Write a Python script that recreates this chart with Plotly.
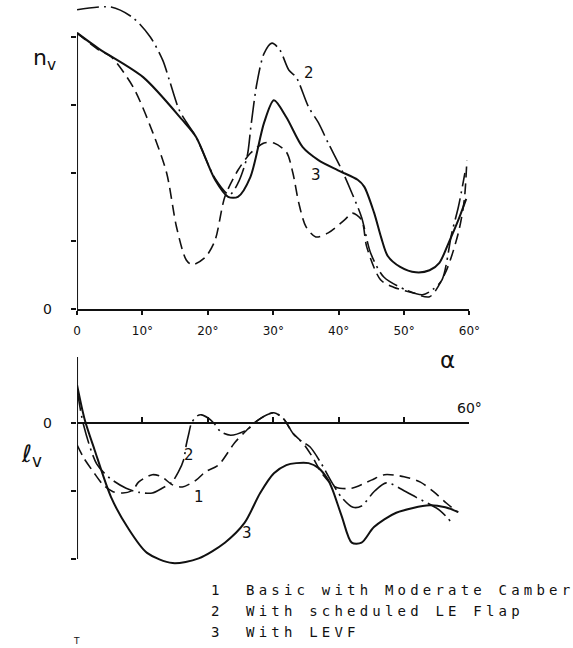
import plotly.graph_objects as go

# ---------------- data (alpha in degrees) ----------------
# top plot: n_v
nv1_alpha = [0, 3.3, 10.1, 16.1, 18.2, 21.1, 23.1, 24.6, 26.5, 28.6, 30.1, 32.0, 34.5, 36.9, 39.9, 42.9,
             43.9, 45.4, 46.5, 47.5, 49.4, 51.8, 53.9, 55.4, 56.8, 58.3, 59.5]
nv1 = [4.06, 3.83, 3.41, 2.78, 2.53, 1.90, 1.65, 1.65, 1.94, 2.74, 3.07, 2.82, 2.38, 2.19, 2.04, 1.90,
       1.80, 1.42, 1.05, 0.78, 0.62, 0.54, 0.57, 0.68, 0.97, 1.31, 1.62]

nv2_alpha = [0, 5.2, 8.6, 11.2, 13.1, 14.1, 15.6, 16.7, 18.2, 21.1, 23.3, 24.6, 26.0, 26.6, 27.5, 28.6,
             29.8, 31.0, 32.4, 33.5, 35.4, 36.9, 38.4, 40.5, 42.0, 43.5, 44.9, 46.9, 50.3, 52.8, 54.3,
             55.8, 57.3, 58.3, 59.3]
nv2 = [4.40, 4.44, 4.28, 4.00, 3.66, 3.37, 2.93, 2.75, 2.53, 1.92, 1.68, 1.85, 2.24, 2.70, 3.32, 3.76,
       3.91, 3.81, 3.51, 3.41, 2.97, 2.74, 2.44, 2.04, 1.71, 1.35, 0.82, 0.47, 0.28, 0.21, 0.28,
       0.43, 1.12, 1.50, 2.00]

nv3_alpha = [0, 3.3, 5.2, 8.6, 11.6, 13.7, 15.2, 16.7, 17.6, 19.6, 21.1, 22.6, 24.6, 26.5, 28.6, 30.1,
             32.0, 33.0, 33.9, 35.0, 36.5, 38.4, 40.9, 42.1, 43.5, 44.3, 46.4, 48.4, 51.3, 53.9, 56.3,
             58.3, 59.2, 59.6]
nv3 = [4.06, 3.81, 3.71, 3.26, 2.59, 2.00, 1.21, 0.72, 0.65, 0.76, 1.01, 1.65, 2.04, 2.29, 2.44, 2.44,
       2.31, 2.00, 1.56, 1.21, 1.06, 1.12, 1.31, 1.41, 1.31, 0.91, 0.43, 0.32, 0.24, 0.18, 0.53,
       1.12, 1.60, 2.19]

# bottom plot: l_v
lv1_alpha = [0, 1.0, 2.5, 4.0, 5.5, 7.0, 8.5, 9.4, 11.5, 12.9, 14.6, 16.1, 18.2, 19.6, 21.6, 24.1, 26.0,
             27.1, 28.6, 30.1, 31.5, 33.0, 34.5, 36.0, 37.5, 39.5, 42.0, 45.0, 47.0, 50.0, 52.5, 54.5,
             56.5, 58.2]
lv1 = [-0.32, -0.51, -0.72, -0.91, -1.01, -1.03, -0.99, -0.87, -0.76, -0.79, -0.91, -0.94, -0.84, -0.72,
       -0.62, -0.29, -0.10, 0.0, 0.10, 0.15, 0.07, -0.15, -0.29, -0.50, -0.75, -0.94, -0.96, -0.84, -0.76,
       -0.79, -0.87, -1.01, -1.18, -1.31]

lv2_alpha = [0, 1.0, 3.0, 5.0, 7.5, 9.5, 11.5, 13.0, 14.5, 15.5, 16.3, 16.7, 17.1, 17.5, 18.3, 19.0, 20.1,
             20.9, 22.0, 23.5, 26.0, 27.1, 28.6, 30.1, 31.5, 33.0, 34.0, 35.6, 37.3, 39.0, 40.5, 42.2,
             43.5, 45.5, 47.3, 50.3, 51.8, 55.4, 57.3]
lv2 = [0.50, -0.03, -0.60, -0.81, -0.96, -1.02, -1.03, -0.96, -0.87, -0.72, -0.54, -0.32, -0.15, 0.0,
       0.10, 0.12, 0.07, 0.0, -0.13, -0.18, -0.10, 0.0, 0.10, 0.15, 0.07, -0.15, -0.25, -0.35, -0.59,
       -0.88, -1.10, -1.24, -1.22, -1.00, -0.88, -1.01, -1.09, -1.28, -1.47]

lv3_alpha = [0, 1.2, 2.7, 5.2, 7.7, 10.7, 14.6, 18.6, 22.6, 25.6, 28.0, 30.1, 32.0, 33.5, 35.4, 36.9,
             38.4, 39.1, 40.5, 42.0, 43.5, 45.4, 48.8, 53.9, 56.3, 58.3]
lv3 = [0.56, 0.04, -0.40, -1.09, -1.53, -1.91, -2.06, -1.99, -1.76, -1.47, -1.03, -0.74, -0.62, -0.59,
       -0.59, -0.66, -0.84, -0.99, -1.38, -1.76, -1.76, -1.53, -1.32, -1.21, -1.24, -1.31]

x_tick_vals = [0, 10, 20, 30, 40, 50, 60]
x_tick_text = ["0", "10°", "20°", "30°", "40°", "50°", "60°"]
top_y_ticks = [0, 1, 2, 3, 4]
bot_y_ticks = [0, -1, -2]
legend_nums = ["1", "2", "3"]
legend_text = ["Basic with Moderate Camber", "With scheduled LE Flap", "With LEVF"]

# ---------------- figure ----------------
W, H = 573, 648
BLACK = "#111111"
SOLID = dict(color=BLACK, width=2)
DASH = dict(color=BLACK, width=1.6, dash="11px,6px")
DASHDOT = dict(color=BLACK, width=1.6, dash="22px,5px,2px,5px")

fig = go.Figure()


def add(x, y, line, xa, ya):
    fig.add_trace(go.Scatter(x=x, y=y, mode="lines", line=dict(**line, shape="spline", smoothing=0.8),
                             xaxis=xa, yaxis=ya, showlegend=False, hoverinfo="skip"))


add(nv1_alpha, nv1, SOLID, "x", "y")
add(nv2_alpha, nv2, DASHDOT, "x", "y")
add(nv3_alpha, nv3, DASH, "x", "y")
add(lv1_alpha, lv1, DASH, "x2", "y2")
add(lv2_alpha, lv2, DASHDOT, "x2", "y2")
add(lv3_alpha, lv3, SOLID, "x2", "y2")

xdom = [75 / W, 478 / W]
PX = 68.0  # pixels per unit on both y axes
top_zero = 309
bot_zero = 423
top_range = [0, 4.5]
bot_range = [-2.1, 1.0]
top_dom = [(H - top_zero) / H, (H - (top_zero - top_range[1] * PX)) / H]
bot_dom = [(H - (bot_zero - bot_range[0] * PX)) / H, (H - (bot_zero - bot_range[1] * PX)) / H]

tickfont = dict(family="DejaVu Sans", size=12, color=BLACK)

fig.update_layout(
    width=W, height=H, autosize=False,
    margin=dict(l=0, r=0, t=0, b=0),
    paper_bgcolor="white", plot_bgcolor="white",
    xaxis=dict(domain=xdom, range=[0, 60], anchor="y", showgrid=False, zeroline=False,
               showline=True, linecolor=BLACK, linewidth=2,
               tickvals=x_tick_vals, ticktext=x_tick_text, ticks="outside", ticklen=4,
               tickcolor=BLACK, tickwidth=2, tickfont=tickfont, ticklabelstandoff=6),
    yaxis=dict(domain=top_dom, range=top_range, anchor="x", showgrid=False, zeroline=False,
               showline=False, tickvals=top_y_ticks, showticklabels=False,
               ticks="outside", ticklen=5, tickcolor=BLACK, tickwidth=2),
    xaxis2=dict(domain=xdom, range=[0, 60], anchor="free", position=(H - bot_zero) / H,
                showgrid=False, zeroline=False, showline=True, linecolor=BLACK, linewidth=2,
                tickvals=x_tick_vals[1:], showticklabels=False, ticks="inside",
                ticklen=5, tickcolor=BLACK, tickwidth=2),
    yaxis2=dict(domain=bot_dom, range=bot_range, anchor="x2", showgrid=False, zeroline=False,
                showline=False, tickvals=bot_y_ticks, showticklabels=False, ticks="outside",
                ticklen=5, tickcolor=BLACK, tickwidth=2),
)

# axis lines that don't span the full domain
fig.add_shape(type="line", xref="x", yref="y", x0=0, x1=0, y0=0, y1=4.06, line=dict(color=BLACK, width=2))
fig.add_shape(type="line", xref="x2", yref="y2", x0=0, x1=0, y0=0.97, y1=-2.0, line=dict(color=BLACK, width=2))


def ann_px(text, x, y, size, xanchor="center", family="DejaVu Sans"):
    fig.add_annotation(text=text, x=x / W, y=(H - y) / H, xref="paper", yref="paper",
                       showarrow=False, xanchor=xanchor, yanchor="middle",
                       font=dict(family=family, size=size, color=BLACK))


def ann_data(text, x, y, xa, ya, size=15):
    fig.add_annotation(text=text, x=x, y=y, xref=xa, yref=ya, showarrow=False,
                       font=dict(family="DejaVu Sans", size=size, color=BLACK))


# y "0" labels
ann_px("0", 45, 309, 14)
ann_px("0", 45, 423, 14)

ann_px("n<sub>v</sub>", 42, 60, 22)
ann_px("ℓ<sub>v</sub>", 28, 455, 24)
ann_px("α", 455, 360, 23)
ann_px("60°", 478, 408, 14)

ann_data("2", 35.4, 3.47, "x", "y")
ann_data("3", 36.5, 1.97, "x", "y")
ann_data("2", 17.1, -0.47, "x2", "y2")
ann_data("1", 18.6, -1.09, "x2", "y2")
ann_data("3", 26.0, -1.62, "x2", "y2")

ys = [590, 611, 632]
for num, txt, yy in zip(legend_nums, legend_text, ys):
    ann_px(num, 217, yy, 14, family="DejaVu Sans Mono")
    ann_px('<span style="letter-spacing:4.2px">' + txt + '</span>', 246, yy, 14,
           xanchor="left", family="DejaVu Sans Mono")

ann_px("T", 74, 641, 9)

fig.write_html("out.html")
